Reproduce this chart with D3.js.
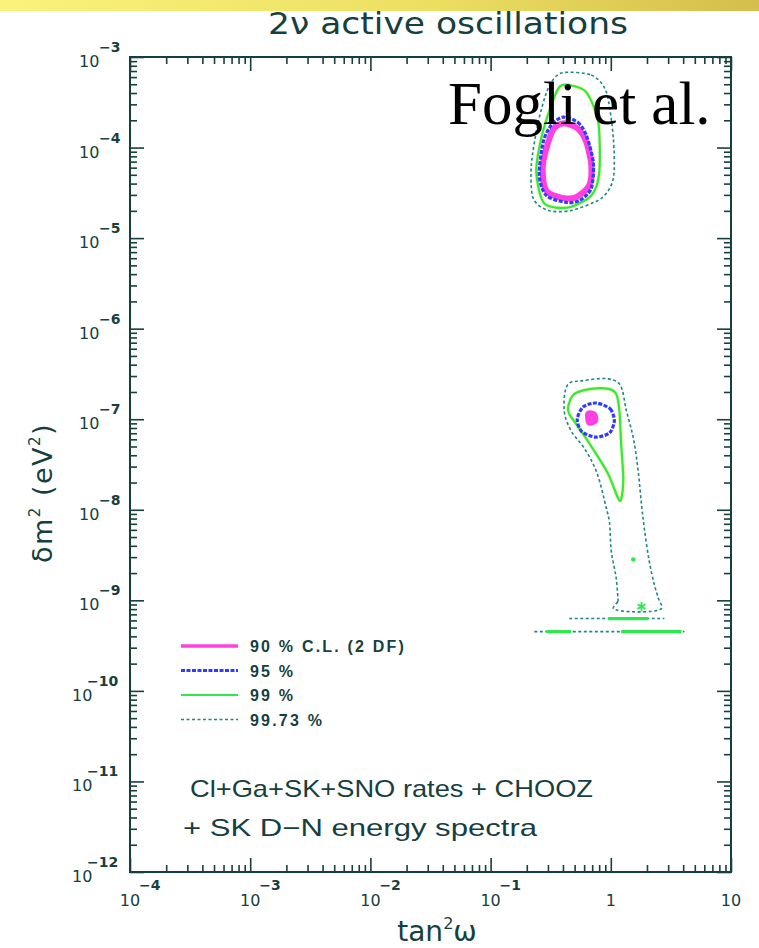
<!DOCTYPE html>
<html>
<head>
<meta charset="utf-8">
<script src="https://cdn.jsdelivr.net/npm/d3@7"></script>
<style>
  html, body { margin: 0; padding: 0; background: #ffffff; }
  svg { display: block; }
</style>
</head>
<body>
<svg id="chart" width="759" height="948"></svg>
<script>
// ---- axis ticks -------------------------------------------------------
const xDecades  = [1e-4, 1e-3, 1e-2, 1e-1, 1, 10];
const xTickBase = ["10", "10", "10", "10", "1", "10"];
const xTickExp  = ["−4", "−3", "−2", "−1", "", ""];

const yDecades  = [1e-3, 1e-4, 1e-5, 1e-6, 1e-7, 1e-8, 1e-9, 1e-10, 1e-11, 1e-12];
const yTickExp  = ["−3", "−4", "−5", "−6", "−7", "−8", "−9", "−10", "−11", "−12"];

// ---- legend ------------------------------------------------------------
const legendLabels = ["90 % C.L. (2 DF)", "95 %", "99 %", "99.73 %"];

// ---- allowed regions: [tan²ω, δm² (eV²)] ------------------------------
// large mixing angle solution
const lma90 = [[0.41,1.86e-4],[0.53,1.62e-4],[0.625,1.15e-4],[0.688,6.4e-5],[0.662,3.83e-5],
               [0.52,2.85e-5],[0.41,2.75e-5],[0.31,3.1e-5],[0.279,3.8e-5],[0.272,6.4e-5],
               [0.302,1.15e-4],[0.339,1.64e-4]];
const lma95 = [[0.40,2.17e-4],[0.53,1.9e-4],[0.625,1.37e-4],[0.715,6.87e-5],[0.688,3.54e-5],
               [0.55,2.6e-5],[0.426,2.48e-5],[0.29,2.96e-5],[0.254,4.93e-5],[0.274,1.15e-4],
               [0.32,1.77e-4]];
const lma99 = [[0.451,4.9e-4],[0.625,4.1e-4],[0.787,1.91e-4],[0.802,5.33e-5],[0.688,2.96e-5],
               [0.443,2.18e-5],[0.279,2.42e-5],[0.24,5.33e-5],[0.264,1.27e-4],[0.32,2.94e-4],
               [0.373,4.66e-4]];
const lma9973 = [[0.387,6.65e-4],[0.688,6.32e-4],[0.918,4.1e-4],[1.05,1.27e-4],[1.05,4.57e-5],
                 [0.834,2.75e-5],[0.469,2.02e-5],[0.302,2.02e-5],[0.226,2.75e-5],[0.218,6.37e-5],
                 [0.249,1.91e-4],[0.302,4.54e-4]];

// low-Δm² solution and its tail toward vacuum-like values
const low90 = [[0.65,1.15e-7],[0.73,1.12e-7],[0.74,9.6e-8],[0.66,9.2e-8]];
const low95 = [[0.757,1.51e-7],[0.99,1.30e-7],[1.07,9.55e-8],[0.972,7.03e-8],[0.743,6.35e-8],
               [0.568,7.40e-8],[0.526,1.005e-7],[0.590,1.37e-7]];
const low99 = [[0.443,1.40e-7],[0.497,1.90e-7],[0.688,2.16e-7],[0.953,2.16e-7],[1.11,1.90e-7],
               [1.18,1.23e-7],[1.22,5.31e-8],[1.27,2.23e-8],[1.22,1.31e-8],[1.15,1.34e-8],
               [0.953,2.47e-8],[0.729,4.45e-8],[0.568,7.40e-8],[0.451,1.14e-7]];
const low9973 = [[1.15,9.70e-10],[1.11,1.74e-9],[1.01,3.47e-9],[0.972,7.46e-9],[0.918,1.04e-8],
                 [0.757,2.67e-8],[0.601,4.80e-8],[0.469,7.40e-8],[0.410,1.23e-7],[0.443,2.45e-7],
                 [0.568,2.65e-7],[0.953,2.79e-7],[1.18,2.45e-7],[1.35,1.23e-7],[1.54,6.19e-8],
                 [1.69,2.67e-8],[1.80,1.15e-8],[1.90,6.24e-9],[2.09,2.69e-9],[2.30,1.50e-9],
                 [2.49,1.05e-9],[2.64,8.11e-10],[1.05,8.11e-10],[1.15,9.70e-10]];
const band9973 = [
  [[0.451,6.29e-10],[2.79,6.29e-10]],
  [[0.231,4.51e-10],[4.10,4.51e-10]]
];
const band99 = [
  [[0.953,6.29e-10],[2.05,6.29e-10]],
  [[0.29,4.51e-10],[0.469,4.51e-10]],
  [[1.22,4.51e-10],[3.87,4.51e-10]]
];
const spot99 = [[1.80,8.54e-10,"star"],[1.54,2.83e-9,"dot"]];

// ---- layout -------------------------------------------------------------
const ink = "#163f40";
const svg = d3.select("#chart");
const plotL = 130, plotR = 731, plotT = 57, plotB = 872;

const x = d3.scaleLog().domain([1e-4, 10]).range([plotL, plotR]);
const y = d3.scaleLog().domain([1e-12, 1e-3]).range([plotB, plotT]);

// header band
const defs = svg.append("defs");
const grad = defs.append("linearGradient").attr("id", "band").attr("x1", 0).attr("x2", 1);
grad.append("stop").attr("offset", 0).attr("stop-color", "#f9f37c");
grad.append("stop").attr("offset", 0.55).attr("stop-color", "#ece062");
grad.append("stop").attr("offset", 1).attr("stop-color", "#d5be4c");
svg.append("rect").attr("x", 0).attr("y", 0).attr("width", 759).attr("height", 11)
  .attr("fill", "url(#band)");

// title
svg.append("text")
  .attr("x", 268).attr("y", 34)
  .attr("textLength", 360).attr("lengthAdjust", "spacingAndGlyphs")
  .attr("font-family", "DejaVu Sans, sans-serif").attr("font-size", 30)
  .attr("fill", ink)
  .text("2ν active oscillations");

// minor tick values
function minors(decades) {
  const out = [];
  decades.forEach(d => { for (let k = 2; k <= 9; k++) out.push(d * k); });
  return out;
}
const xMinor = minors(xDecades.slice(0, -1));
const yMinor = minors(yDecades.slice(1));

const axes = svg.append("g");
function drawAxis(gen, tx, ty, vals, len) {
  const g = axes.append("g").attr("transform", `translate(${tx},${ty})`)
    .call(gen.tickValues(vals).tickSizeInner(-len).tickSizeOuter(0).tickFormat(""));
  g.select(".domain").remove();
  g.selectAll("line").attr("stroke", ink).attr("stroke-width", 1.6);
}
drawAxis(d3.axisBottom(x), 0, plotB, xDecades, 14);
drawAxis(d3.axisBottom(x), 0, plotB, xMinor, 7);
drawAxis(d3.axisTop(x), 0, plotT, xDecades, 14);
drawAxis(d3.axisTop(x), 0, plotT, xMinor, 7);
drawAxis(d3.axisLeft(y), plotL, 0, yDecades, 14);
drawAxis(d3.axisLeft(y), plotL, 0, yMinor, 7);
drawAxis(d3.axisRight(y), plotR, 0, yDecades, 14);
drawAxis(d3.axisRight(y), plotR, 0, yMinor, 7);

// frame
svg.append("rect").attr("x", plotL).attr("y", plotT)
  .attr("width", plotR - plotL).attr("height", plotB - plotT)
  .attr("fill", "none").attr("stroke", ink).attr("stroke-width", 2);

// x tick labels
const xl = svg.append("g").attr("font-family", "DejaVu Sans, sans-serif")
  .attr("fill", ink);
xDecades.forEach((v, i) => {
  xl.append("text").attr("x", x(v)).attr("y", 906)
    .attr("text-anchor", "middle").attr("font-size", 16).text(xTickBase[i]);
  if (xTickExp[i]) {
    xl.append("text").attr("x", x(v) + 9).attr("y", 890)
      .attr("font-size", 14).attr("font-weight", "bold").text(xTickExp[i]);
  }
});

// y tick labels
const yl = svg.append("g").attr("font-family", "DejaVu Sans, sans-serif")
  .attr("fill", ink);
yDecades.forEach((v, i) => {
  const long = yTickExp[i].length > 2;
  const bx = long ? 72 : 79;
  yl.append("text").attr("x", bx).attr("y", y(v) + 10)
    .attr("font-size", 16).text("10");
  yl.append("text").attr("x", bx + (long ? 15 : 20)).attr("y", y(v) - 5)
    .attr("font-size", 14).attr("font-weight", "bold").text(yTickExp[i]);
});

// axis titles
const xt = svg.append("text").attr("x", 437).attr("y", 941).attr("text-anchor", "middle")
  .attr("font-family", "DejaVu Sans, sans-serif").attr("font-size", 28).attr("fill", ink);
xt.append("tspan").text("tan");
xt.append("tspan").attr("font-size", 16).attr("dy", -12).text("2");
xt.append("tspan").attr("dy", 12).text("ω");

const yt = svg.append("text")
  .attr("transform", "translate(52,493) rotate(-90)")
  .attr("text-anchor", "middle")
  .attr("font-family", "DejaVu Sans, sans-serif").attr("font-size", 27)
  .attr("letter-spacing", 1.5).attr("fill", ink);
yt.append("tspan").text("δm");
yt.append("tspan").attr("font-size", 15).attr("dy", -12).text("2");
yt.append("tspan").attr("dy", 12).text("  (eV");
yt.append("tspan").attr("font-size", 15).attr("dy", -12).text("2");
yt.append("tspan").attr("dy", 12).text(")");

// ---- contours --------------------------------------------------------
const plot = svg.append("g");
const closed = d3.line().x(d => x(d[0])).y(d => y(d[1])).curve(d3.curveCardinalClosed.tension(0.2));
const open = d3.line().x(d => x(d[0])).y(d => y(d[1])).curve(d3.curveLinear);

const styles = {
  c9973: { stroke: "#1f8585", width: 1.6, dash: "3,2.5" },
  c99:   { stroke: "#2ee84c", width: 2.2, dash: null },
  c95:   { stroke: "#2f3cff", width: 3.2, dash: "4,1.5" },
  c90:   { stroke: "#ff3fe0", width: 6,   dash: null }
};
function stroke(path, s) {
  path.attr("fill", "none").attr("stroke", s.stroke).attr("stroke-width", s.width)
    .attr("stroke-dasharray", s.dash);
  return path;
}

// faint yellow halo of the 99% curves
[lma99, low99].forEach(c => {
  plot.append("path").attr("d", closed(c)).attr("fill", "none")
    .attr("stroke", "#f1f06a").attr("stroke-width", 4).attr("opacity", 0.55);
});

stroke(plot.append("path").attr("d", closed(lma9973)), styles.c9973);
stroke(plot.append("path").attr("d", d3.line().x(d => x(d[0])).y(d => y(d[1]))
  .curve(d3.curveCatmullRom)(low9973)), styles.c9973);
band9973.forEach(b => stroke(plot.append("path").attr("d", open(b)), styles.c9973));

stroke(plot.append("path").attr("d", closed(lma99)), styles.c99);
stroke(plot.append("path").attr("d", closed(low99)), styles.c99);
band99.forEach(b => stroke(plot.append("path").attr("d", open(b)), styles.c99).attr("stroke-width", 3.2));
spot99.forEach(s => {
  const sym = s[2] === "star"
    ? d3.symbol(d3.symbolAsterisk, 60)
    : d3.symbol(d3.symbolCircle, 6);
  plot.append("path").attr("d", sym())
    .attr("transform", `translate(${x(s[0])},${y(s[1])})`)
    .attr("fill", s[2] === "star" ? "none" : "#2ee84c")
    .attr("stroke", "#2ee84c").attr("stroke-width", 1.8);
});

stroke(plot.append("path").attr("d", closed(lma90)), styles.c90);
stroke(plot.append("path").attr("d", closed(low90)), styles.c90).attr("fill", "#ff3fe0");
stroke(plot.append("path").attr("d", closed(lma95)), styles.c95);
stroke(plot.append("path").attr("d", closed(low95)), styles.c95);

// ---- legend ----------------------------------------------------------
const legendStyles = [styles.c90, styles.c95, styles.c99, styles.c9973];
const lg = svg.append("g");
legendLabels.forEach((lab, i) => {
  const ly = 646 + i * 24.5;
  const s = Object.assign({}, legendStyles[i]);
  if (i === 0) s.width = 3.5;
  stroke(lg.append("line").attr("x1", 181).attr("x2", 238).attr("y1", ly).attr("y2", ly), s);
  lg.append("text").attr("x", 250).attr("y", ly + 6)
    .attr("font-family", "Liberation Sans, Arial, sans-serif")
    .attr("font-size", 16).attr("font-weight", "bold").attr("letter-spacing", 2.2)
    .attr("fill", ink)
    .text(lab);
});

// data-set note
const note = svg.append("g").attr("font-family", "Liberation Sans, Arial, sans-serif")
  .attr("font-size", 24).attr("fill", ink);
note.append("text").attr("x", 190).attr("y", 797)
  .attr("textLength", 403).attr("lengthAdjust", "spacingAndGlyphs")
  .text("Cl+Ga+SK+SNO rates + CHOOZ");
note.append("text").attr("x", 183).attr("y", 836)
  .attr("textLength", 354).attr("lengthAdjust", "spacingAndGlyphs")
  .text("+ SK D−N energy spectra");

// attribution
svg.append("text").attr("x", 448).attr("y", 124)
  .attr("font-family", "Liberation Serif, Times New Roman, serif")
  .attr("font-size", 61).attr("fill", "#000")
  .text("Fogli et al.");
</script>
</body>
</html>
